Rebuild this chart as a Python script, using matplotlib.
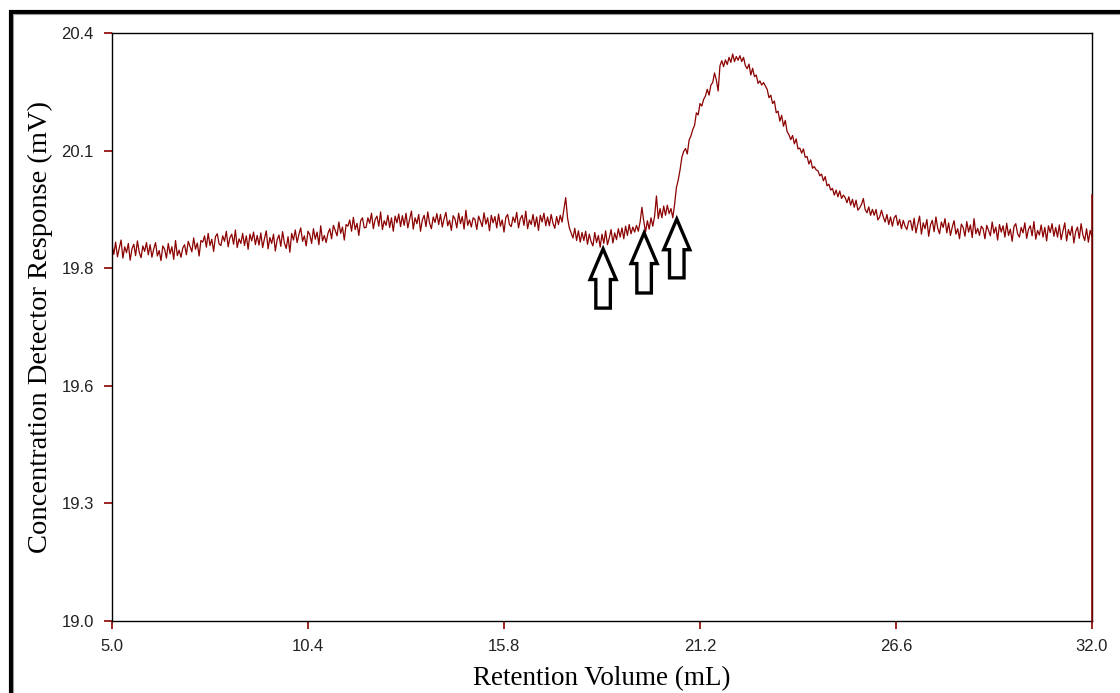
import numpy as np
import matplotlib
matplotlib.use("Agg")
import matplotlib.pyplot as plt
import matplotlib.patches as mpatches

# Detector trace sampled every 0.05 mL from 5.0 to 32.0 mL (mV)
response_mv = [
    # 5.0 - 5.95
    19.896, 19.873, 19.902, 19.867, 19.888, 19.907, 19.864, 19.891, 19.877, 19.899,
    19.859, 19.886, 19.897, 19.870, 19.905, 19.878, 19.865, 19.893, 19.880, 19.901,
    # 6.0 - 6.95
    19.872, 19.896, 19.866, 19.886, 19.901, 19.869, 19.882, 19.858, 19.893, 19.885,
    19.864, 19.899, 19.874, 19.891, 19.861, 19.906, 19.870, 19.883, 19.866, 19.888,
    # 7.0 - 7.95
    19.896, 19.872, 19.904, 19.892, 19.879, 19.912, 19.885, 19.900, 19.869, 19.906,
    19.902, 19.917, 19.890, 19.923, 19.894, 19.909, 19.880, 19.915, 19.922, 19.898,
    # 8.0 - 8.95
    19.894, 19.917, 19.904, 19.928, 19.891, 19.913, 19.921, 19.897, 19.931, 19.889,
    19.910, 19.899, 19.923, 19.894, 19.917, 19.885, 19.921, 19.905, 19.926, 19.896,
    # 9.0 - 9.95
    19.918, 19.895, 19.924, 19.889, 19.910, 19.929, 19.886, 19.913, 19.899, 19.921,
    19.881, 19.908, 19.919, 19.892, 19.927, 19.900, 19.887, 19.915, 19.878, 19.923,
    # 10.0 - 10.95
    19.907, 19.931, 19.901, 19.921, 19.936, 19.904, 19.917, 19.893, 19.928, 19.920,
    19.899, 19.934, 19.909, 19.926, 19.896, 19.941, 19.905, 19.918, 19.901, 19.923,
    # 11.0 - 11.95
    19.934, 19.910, 19.942, 19.930, 19.917, 19.950, 19.923, 19.938, 19.907, 19.944,
    19.940, 19.955, 19.928, 19.961, 19.932, 19.947, 19.918, 19.953, 19.960, 19.936,
    # 12.0 - 12.95
    19.937, 19.960, 19.947, 19.971, 19.934, 19.956, 19.964, 19.940, 19.974, 19.932,
    19.953, 19.942, 19.966, 19.937, 19.960, 19.928, 19.964, 19.948, 19.969, 19.939,
    # 13.0 - 13.95
    19.965, 19.942, 19.971, 19.936, 19.957, 19.976, 19.933, 19.960, 19.946, 19.968,
    19.928, 19.955, 19.966, 19.939, 19.974, 19.947, 19.934, 19.962, 19.949, 19.970,
    # 14.0 - 14.95
    19.944, 19.968, 19.938, 19.958, 19.973, 19.941, 19.954, 19.930, 19.965, 19.957,
    19.936, 19.971, 19.946, 19.963, 19.933, 19.978, 19.942, 19.955, 19.938, 19.960,
    # 15.0 - 15.95
    19.956, 19.932, 19.964, 19.952, 19.939, 19.972, 19.945, 19.960, 19.929, 19.966,
    19.948, 19.963, 19.936, 19.969, 19.940, 19.955, 19.926, 19.961, 19.968, 19.944,
    # 16.0 - 16.95
    19.939, 19.962, 19.949, 19.973, 19.936, 19.958, 19.966, 19.942, 19.976, 19.934,
    19.955, 19.944, 19.968, 19.939, 19.962, 19.930, 19.966, 19.950, 19.971, 19.941,
    # 17.0 - 17.95
    19.962, 19.941, 19.968, 19.947, 19.935, 19.963, 19.944, 19.966, 19.950, 19.980,
    20.008, 19.960, 19.936, 19.924, 19.912, 19.935, 19.906, 19.929, 19.902, 19.925,
    # 18.0 - 18.95
    19.906, 19.928, 19.897, 19.921, 19.903, 19.893, 19.925, 19.901, 19.918, 19.890,
    19.921, 19.899, 19.929, 19.896, 19.912, 19.932, 19.900, 19.924, 19.908, 19.934,
    # 19.0 - 19.95
    19.914, 19.936, 19.910, 19.940, 19.918, 19.944, 19.922, 19.938, 19.926, 19.942,
    19.928, 19.950, 19.985, 19.952, 19.926, 19.953, 19.933, 19.960, 19.940, 19.964,
    # 20.0 - 20.95
    20.012, 19.958, 19.982, 19.960, 19.988, 19.966, 19.990, 19.970, 19.982, 19.960,
    19.992, 20.032, 20.050, 20.074, 20.104, 20.118, 20.125, 20.112, 20.145, 20.155,
    # 21.0 - 21.95
    20.170, 20.180, 20.210, 20.205, 20.232, 20.226, 20.242, 20.250, 20.266, 20.252,
    20.276, 20.282, 20.305, 20.288, 20.262, 20.322, 20.334, 20.320, 20.336, 20.325,
    # 22.0 - 22.95
    20.342, 20.330, 20.350, 20.332, 20.344, 20.335, 20.346, 20.332, 20.342, 20.322,
    20.315, 20.326, 20.300, 20.316, 20.296, 20.300, 20.280, 20.286, 20.276, 20.282,
    # 23.0 - 23.95
    20.274, 20.266, 20.246, 20.252, 20.232, 20.238, 20.210, 20.214, 20.190, 20.204,
    20.178, 20.192, 20.165, 20.158, 20.146, 20.156, 20.136, 20.148, 20.124, 20.126,
    # 24.0 - 24.95
    20.114, 20.124, 20.104, 20.106, 20.088, 20.098, 20.078, 20.082, 20.074, 20.072,
    20.060, 20.064, 20.048, 20.058, 20.036, 20.040, 20.026, 20.030, 20.014, 20.026,
    # 25.0 - 25.95
    20.010, 20.024, 20.006, 20.014, 20.008, 19.996, 20.010, 19.990, 20.004, 19.985,
    20.002, 19.978, 19.984, 19.992, 20.006, 19.980, 19.972, 19.986, 19.966, 19.980,
    # 26.0 - 26.95
    19.966, 19.980, 19.955, 19.962, 19.978, 19.962, 19.950, 19.968, 19.944, 19.962,
    19.940, 19.960, 19.966, 19.942, 19.956, 19.934, 19.954, 19.940, 19.932, 19.952,
    # 27.0 - 27.95
    19.953, 19.930, 19.959, 19.924, 19.945, 19.964, 19.921, 19.948, 19.934, 19.956,
    19.916, 19.943, 19.954, 19.927, 19.962, 19.935, 19.922, 19.950, 19.937, 19.958,
    # 28.0 - 28.95
    19.924, 19.948, 19.918, 19.938, 19.953, 19.921, 19.934, 19.910, 19.945, 19.937,
    19.916, 19.951, 19.926, 19.943, 19.913, 19.958, 19.922, 19.935, 19.918, 19.940,
    # 29.0 - 29.95
    19.934, 19.910, 19.942, 19.930, 19.917, 19.950, 19.923, 19.938, 19.907, 19.944,
    19.926, 19.941, 19.914, 19.947, 19.918, 19.933, 19.904, 19.939, 19.946, 19.922,
    # 30.0 - 30.95
    19.914, 19.937, 19.924, 19.948, 19.911, 19.933, 19.941, 19.917, 19.951, 19.909,
    19.930, 19.919, 19.943, 19.914, 19.937, 19.905, 19.941, 19.925, 19.946, 19.916,
    # 31.0 - 32.0
    19.937, 19.914, 19.943, 19.908, 19.929, 19.948, 19.905, 19.932, 19.918, 19.940,
    19.900, 19.927, 19.938, 19.911, 19.946, 19.919, 19.906, 19.934, 19.902, 19.930,
    19.915,
]
volume_start, volume_end = 5.0, 32.0

# End-of-run limit marker (mV top)
end_marker_top = 20.014

# Arrow annotations: retention volume, arrow tip and tail (mV)
arrow_volumes = [18.53, 19.66, 20.56]
arrow_tips = [19.886, 19.924, 19.957]
arrow_tails = [19.745, 19.781, 19.817]

x_ticks = [5.0, 10.4, 15.8, 21.2, 26.6, 32.0]
x_tick_labels = ["5.0", "10.4", "15.8", "21.2", "26.6", "32.0"]
y_ticks = [19.0, 19.28, 19.56, 19.84, 20.12, 20.4]
y_tick_labels = ["19.0", "19.3", "19.6", "19.8", "20.1", "20.4"]

volume = np.linspace(volume_start, volume_end, len(response_mv))

fig = plt.figure(figsize=(11.2, 6.93), dpi=100)
ax = fig.add_axes([112 / 1120, 1 - 621 / 693, 980 / 1120, 588 / 693])

trace_color = "#8b0000"
ax.plot(volume, response_mv, color=trace_color, lw=0.9)
ax.plot([volume_end, volume_end], [19.0, end_marker_top], color=trace_color,
        lw=1.1, clip_on=False, zorder=3)

for xv, tip, tail in zip(arrow_volumes, arrow_tips, arrow_tails):
    arr = mpatches.FancyArrow(xv, tail, 0, tip - tail, width=0.40,
                              head_width=0.72, head_length=0.073,
                              length_includes_head=True,
                              facecolor="white", edgecolor="black", lw=2.4,
                              joinstyle="miter", zorder=5)
    ax.add_patch(arr)

ax.set_xlim(volume_start, volume_end)
ax.set_ylim(19.0, 20.4)
ax.set_xticks(x_ticks)
ax.set_xticklabels(x_tick_labels)
ax.set_yticks(y_ticks)
ax.set_yticklabels(y_tick_labels)

for lab in ax.get_xticklabels() + ax.get_yticklabels():
    lab.set_fontfamily("Liberation Sans")
    lab.set_fontsize(12)
    lab.set_color("#222222")

ax.tick_params(axis="both", direction="out", length=6, width=1.2,
               color=trace_color, pad=7)
for side in ["left", "bottom", "top", "right"]:
    ax.spines[side].set_color("black")
    ax.spines[side].set_linewidth(1.0)

ax.set_xlabel("Retention Volume (mL)", family="Liberation Serif", fontsize=19.5,
              labelpad=9)
ax.set_ylabel("Concentration Detector Response (mV)", family="Liberation Serif",
              fontsize=20.5, labelpad=6)

# Heavy outer frame, open towards the right and bottom edges
frame = mpatches.Rectangle((10.5 / 1120, -0.2), 1.2, 1.2 - 11.5 / 693,
                           transform=fig.transFigure, fill=False,
                           edgecolor="black", lw=3.0, clip_on=False)
fig.patches.append(frame)
shadow = mpatches.Rectangle((12.8 / 1120, -0.2), 1.2, 1.2 - 13.8 / 693,
                            transform=fig.transFigure, fill=False,
                            edgecolor="#9a9a9a", lw=0.8, clip_on=False)
fig.patches.append(shadow)

fig.savefig("out.png", dpi=100, facecolor="white")
